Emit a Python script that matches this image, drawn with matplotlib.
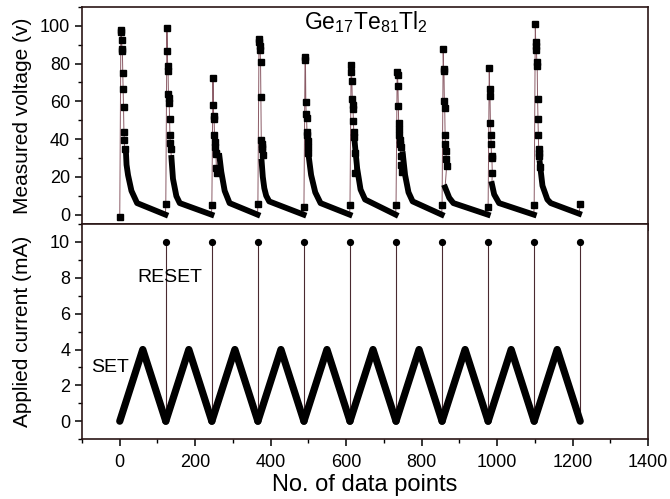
import numpy as np
import matplotlib
matplotlib.use('Agg')
import matplotlib.pyplot as plt
from matplotlib.ticker import MultipleLocator

plt.rcParams['font.family'] = ['Liberation Sans', 'DejaVu Sans']
plt.rcParams['mathtext.default'] = 'regular'

# current sweep: one SET triangle per cycle, then a RESET pulse
cycle_start = [0, 122, 244, 366, 488, 610, 732, 854, 976, 1098]
cycle_peak = [61, 183, 305, 427, 549, 671, 793, 915, 1037, 1159]
cycle_end = [122, 244, 366, 488, 610, 732, 854, 976, 1098, 1220]
set_current = [0.0, 4.0, 0.0]
reset_current = [10, 10, 10, 10, 10, 10, 10, 10, 10, 10]

# measured voltage, spike part of each cycle (first value = first point of cycle)
spike_1 = [-1.5, 98, 96.5, 92.3, 87.7, 86.8, 74.8, 66.6, 56.9, 44, 39.7, 35]
spike_2 = [5.7, 98.7, 86.8, 78.6, 76.2, 63.7, 62, 59.2, 50.9, 42.1, 38, 34.7]
spike_3 = [5.1, 72.5, 58.1, 52.2, 50.9, 42.1, 38.4, 35.6, 32.5, 32, 24.5, 21.8]
spike_4 = [5.7, 92.8, 91.4, 89.5, 87.3, 80.8, 62.4, 39.3, 37.4, 35.6, 34.7, 31.4]
spike_5 = [4.2, 83.6, 81.8, 59.6, 53.2, 51.3, 43.9, 42.1, 38.9, 35.6, 32.8]
spike_6 = [5.1, 79.4, 75.7, 70.7, 61.5, 58.1, 55.9, 49.4, 43.9, 41.2, 32.5, 21.8]
spike_7 = [5.1, 75.3, 73.8, 68.3, 57.8, 48.6, 45.3, 42.1, 39.3, 37.4, 36, 31, 26.4, 22.7]
spike_8 = [5.1, 87.7, 77.2, 76.2, 60, 56.3, 42.1, 37.2, 33.8, 29.2, 25.5]
spike_9 = [4.2, 77.7, 66.5, 62.8, 48.6, 42.1, 37.4, 31, 30, 22.3]
spike_10 = [5.1, 100.8, 91.4, 89.1, 87.3, 80.8, 78.6, 61.5, 50.9, 42.1, 34.7, 32.8, 31, 25.1]

# decaying tail of each cycle: offset from cycle start and voltage
tail_off_1 = [16, 18, 22, 31, 46, 121]
tail_v_1 = [34.7, 26.4, 20.9, 12.6, 6.1, 0.0]
tail_off_2 = [15, 19, 28, 37, 121]
tail_v_2 = [30, 19, 9.8, 6.1, 0.0]
tail_off_3 = [20, 25, 34, 47, 121]
tail_v_3 = [31, 22.7, 12.6, 6.1, 0.0]
tail_off_4 = [10, 13, 17, 22, 30, 121]
tail_v_4 = [28, 20, 14, 10, 7, 0.0]
tail_off_5 = [12, 19, 30, 44, 121]
tail_v_5 = [31.9, 21, 11.8, 6.1, 0.0]
tail_off_6 = [12, 19, 28, 40, 121]
tail_v_6 = [39.3, 24.5, 13.3, 8, 0.0]
tail_off_7 = [18, 24, 33, 44, 121]
tail_v_7 = [32, 21, 11.8, 7, 0.0]
tail_off_8 = [8, 19, 30, 121]
tail_v_8 = [14.4, 8.9, 6.1, 0.0]
tail_off_9 = [10, 16, 29, 121]
tail_v_9 = [16.2, 10.7, 6.1, 0.0]
tail_off_10 = [15, 22, 35, 44, 119]
tail_v_10 = [27.3, 15.3, 8, 6.1, 0.5]
last_x = 1220
last_v = 5.5

spikes = [spike_1, spike_2, spike_3, spike_4, spike_5,
          spike_6, spike_7, spike_8, spike_9, spike_10]
tail_offs = [tail_off_1, tail_off_2, tail_off_3, tail_off_4, tail_off_5,
             tail_off_6, tail_off_7, tail_off_8, tail_off_9, tail_off_10]
tail_vs = [tail_v_1, tail_v_2, tail_v_3, tail_v_4, tail_v_5,
           tail_v_6, tail_v_7, tail_v_8, tail_v_9, tail_v_10]

fig = plt.figure(figsize=(6.7, 4.99), dpi=100)
ax1 = fig.add_axes([0.1224, 0.551, 0.845, 0.435])
ax2 = fig.add_axes([0.1224, 0.120, 0.845, 0.431], sharex=ax1)

thin = '#8a5a65'

# ---- top panel: voltage
all_x = []
all_v = []
for k in range(10):
    s = cycle_start[k]
    sp = spikes[k]
    sx = [s] + [s + 3 + i for i in range(len(sp) - 1)]
    tx = [s + o for o in tail_offs[k]]
    all_x += sx + tx
    all_v += sp + tail_vs[k]
    ax1.plot(tx, tail_vs[k], color='k', lw=4.2, solid_capstyle='projecting',
             solid_joinstyle='round', zorder=3)
    ax1.plot(sx, sp, 's', color='k', ms=3.8, zorder=4)
all_x.append(last_x)
all_v.append(last_v)
ax1.plot(all_x, all_v, color=thin, lw=0.7, zorder=2)
ax1.plot([last_x], [last_v], 's', color='k', ms=3.8, zorder=4)

ax1.text(488, 102, r'Ge$_{17}$Te$_{81}$Tl$_2$', fontsize=16.5, va='center', ha='left')
ax1.set_ylim(-5, 110)
ax1.set_ylabel('Measured voltage (v)', fontsize=15)
ax1.yaxis.set_major_locator(MultipleLocator(20))
ax1.yaxis.set_minor_locator(MultipleLocator(10))
ax1.tick_params(axis='x', labelbottom=False)

# ---- bottom panel: current
for k in range(10):
    ax2.plot([cycle_start[k], cycle_peak[k], cycle_end[k]], set_current,
             color='k', lw=5.2, solid_joinstyle='round', solid_capstyle='round', zorder=3)
ax2.vlines(cycle_end, 0, reset_current, color='#4a2a30', lw=0.8, zorder=2)
ax2.plot(cycle_end, reset_current, 'o', color='k', ms=4.2, zorder=4)

ax2.text(48, 8.0, 'RESET', fontsize=14, va='center', ha='left')
ax2.text(-75, 3.0, 'SET', fontsize=14, va='center', ha='left')
ax2.set_ylim(-1, 11)
ax2.set_ylabel('Applied current (mA)', fontsize=15)
ax2.yaxis.set_major_locator(MultipleLocator(2))
ax2.yaxis.set_minor_locator(MultipleLocator(1))
ax2.set_xlim(-100, 1400)
ax2.xaxis.set_major_locator(MultipleLocator(200))
ax2.xaxis.set_minor_locator(MultipleLocator(100))
ax2.set_xlabel('No. of data points', fontsize=17, labelpad=2)

for ax in (ax1, ax2):
    for sp in ax.spines.values():
        sp.set_linewidth(1.2)
        sp.set_color('#2a1515')
    ax.tick_params(which='major', direction='out', length=5, width=1.1, labelsize=13)
    ax.tick_params(which='minor', direction='out', length=3, width=1.0)
    ax.yaxis.set_label_coords(-0.088, 0.5)
ax2.tick_params(axis='x', which='major', pad=6)

fig.savefig('out.png', dpi=100)
